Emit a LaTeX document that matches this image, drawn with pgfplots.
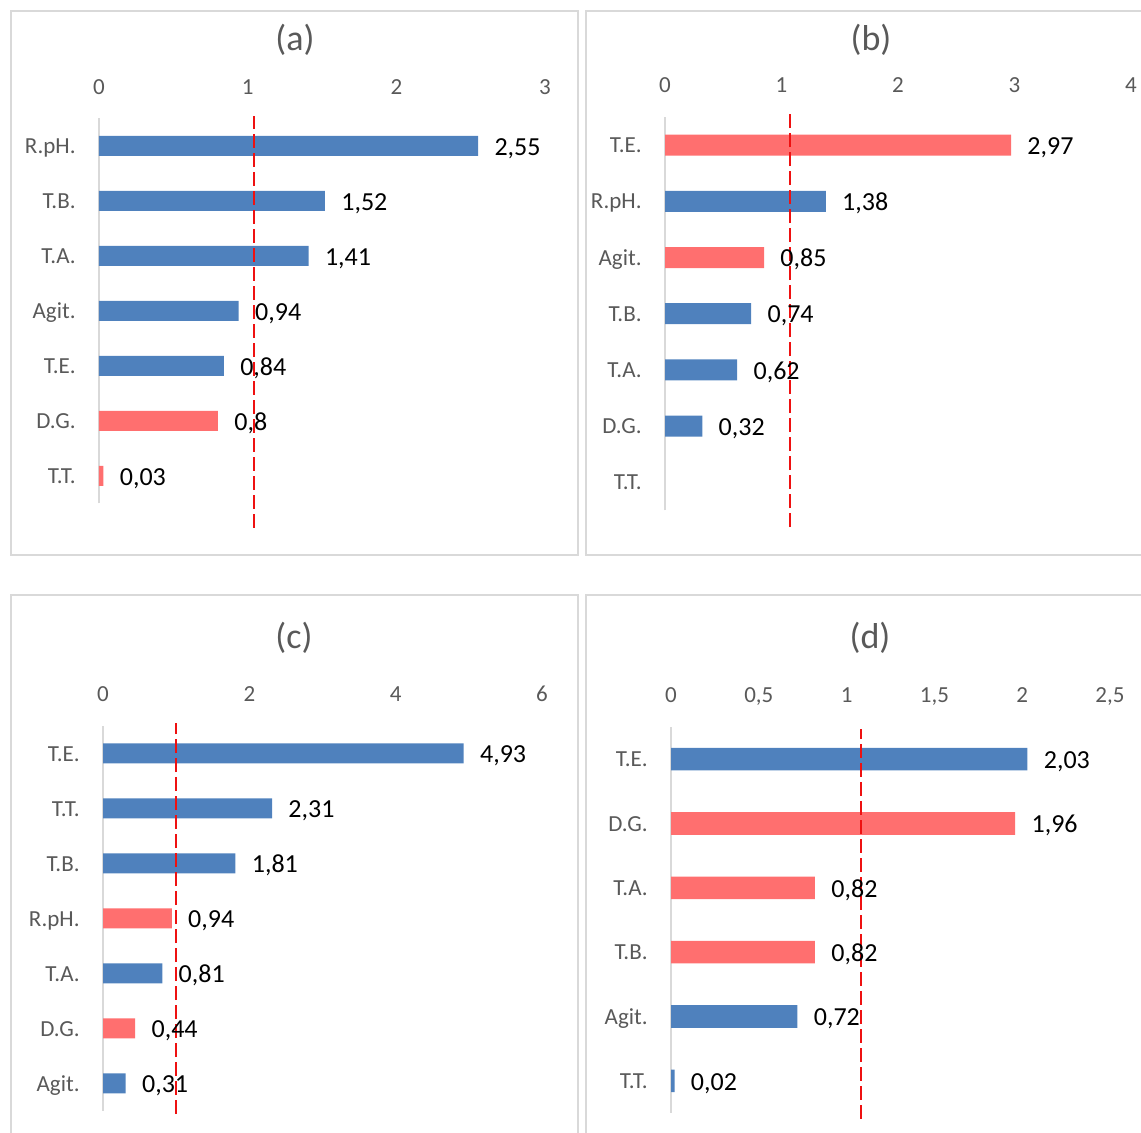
\documentclass[border=0pt]{standalone}
\usepackage{fontspec}
\setmainfont{Carlito}
\usepackage{pgfplots}
\pgfplotsset{compat=1.18}
\definecolor{barblue}{HTML}{4F81BD}
\definecolor{barred}{HTML}{FF6F6F}
\definecolor{txtgray}{HTML}{595959}
\definecolor{framegray}{HTML}{D9D9D9}
\definecolor{axgray}{HTML}{D9D9D9}
\definecolor{refred}{HTML}{EE1111}
\pgfplotsset{
  panel/.style={
    scale only axis, anchor=south west,
    axis x line*=top, axis y line*=left,
    x axis line style={draw=none},
    y axis line style={draw=axgray, line width=0.8pt},
    major tick length=0pt,
    enlargelimits=false, clip=false,
    ymin=-0.5,
    xticklabel style={font=\fontsize{11.5}{13}\selectfont, text=txtgray, anchor=base, inner sep=0pt, yshift=12pt},
    yticklabel style={font=\fontsize{11.5}{13}\selectfont, text=txtgray, anchor=base east, inner sep=0pt, xshift=-11.5pt, yshift=-3.8pt},
    /pgf/number format/use comma,
    /pgf/number format/fixed,
    /pgf/number format/precision=2,
    /pgf/number format/assume math mode=true,
  },
  bars/.style={
    xbar, bar shift=0pt, draw=none, fill=#1,
    nodes near coords, point meta=x,
    every node near coord/.append style={font=\fontsize{13}{14}\selectfont, text=black, anchor=base west, inner sep=0pt, xshift=8pt, yshift=-4.6pt},
  },
  refline/.style={draw=refred, line width=1pt, dash pattern=on 7pt off 2.5pt, mark=none, forget plot},
}
\begin{document}
\begin{tikzpicture}
\useasboundingbox (0,0) rectangle (570.5pt,566.5pt);
% frames
\draw[framegray, line width=0.75pt] (5.5pt,289pt) rectangle (289pt,561pt);
\draw[framegray, line width=0.75pt] (293pt,289pt) rectangle (580pt,561pt);
\draw[framegray, line width=0.75pt] (5.5pt,269pt) rectangle (289pt,-10pt);
\draw[framegray, line width=0.75pt] (293pt,269pt) rectangle (580pt,-10pt);
% titles
\node[text=txtgray, font=\fontsize{18}{20}\selectfont] at (147.5pt,546.5pt) {(a)};
\node[text=txtgray, font=\fontsize{18}{20}\selectfont] at (435.5pt,546.5pt) {(b)};
\node[text=txtgray, font=\fontsize{18}{20}\selectfont] at (147pt,247.5pt) {(c)};
\node[text=txtgray, font=\fontsize{18}{20}\selectfont] at (435pt,247.5pt) {(d)};

% (a)
\begin{axis}[panel, at={(49.5pt,314.75pt)}, width=223pt, height=192.5pt,
  xmin=0, xmax=3, xtick={0,1,2,3}, ymax=6.5,
  ytick={0,...,6}, yticklabels={T.T., D.G., T.E., Agit., T.A., T.B., R.pH.}]
\addplot[bars=barblue, bar width=10pt] coordinates {(2.55,6) (1.52,5) (1.41,4) (0.94,3) (0.84,2)};
\addplot[bars=barred, bar width=10pt] coordinates {(0.8,1) (0.03,0)};
\addplot[refline] coordinates {(1.04,-0.945) (1.04,6.545)};
\end{axis}

% (b)
\begin{axis}[panel, at={(332.5pt,311.25pt)}, width=233pt, height=196.75pt,
  xmin=0, xmax=4, xtick={0,1,2,3,4}, ymax=6.5,
  ytick={0,...,6}, yticklabels={T.T., D.G., T.A., T.B., Agit., R.pH., T.E.}]
\addplot[bars=barblue, bar width=10.5pt] coordinates {(1.38,5) (0.74,3) (0.62,2) (0.32,1)};
\addplot[bars=barred, bar width=10.5pt] coordinates {(2.97,6) (0.85,4)};
\addplot[refline] coordinates {(1.07,-0.794) (1.07,6.553)};
\end{axis}

% (c)
\begin{axis}[panel, at={(51.5pt,11pt)}, width=219.5pt, height=192.5pt,
  xmin=0, xmax=6, xtick={0,2,4,6}, ymax=6.5,
  ytick={0,...,6}, yticklabels={Agit., D.G., T.A., R.pH., T.B., T.T., T.E.}]
\addplot[bars=barblue, bar width=10pt] coordinates {(4.93,6) (2.31,5) (1.81,4) (0.81,2) (0.31,0)};
\addplot[bars=barred, bar width=10pt] coordinates {(0.94,3) (0.44,1)};
\addplot[refline] coordinates {(1.0,-0.555) (1.0,6.555)};
\end{axis}

% (d)
\begin{axis}[panel, at={(335.5pt,10pt)}, width=219.5pt, height=193pt,
  xmin=0, xmax=2.5, xtick={0,0.5,1,1.5,2,2.5}, ymax=5.5,
  ytick={0,...,5}, yticklabels={T.T., Agit., T.B., T.A., D.G., T.E.}]
\addplot[bars=barblue, bar width=11.3pt] coordinates {(2.03,5) (0.72,1) (0.02,0)};
\addplot[bars=barred, bar width=11.3pt] coordinates {(1.96,4) (0.82,3) (0.82,2)};
\addplot[refline] coordinates {(1.08,-0.593) (1.08,5.47)};
\end{axis}
\end{tikzpicture}
\end{document}
